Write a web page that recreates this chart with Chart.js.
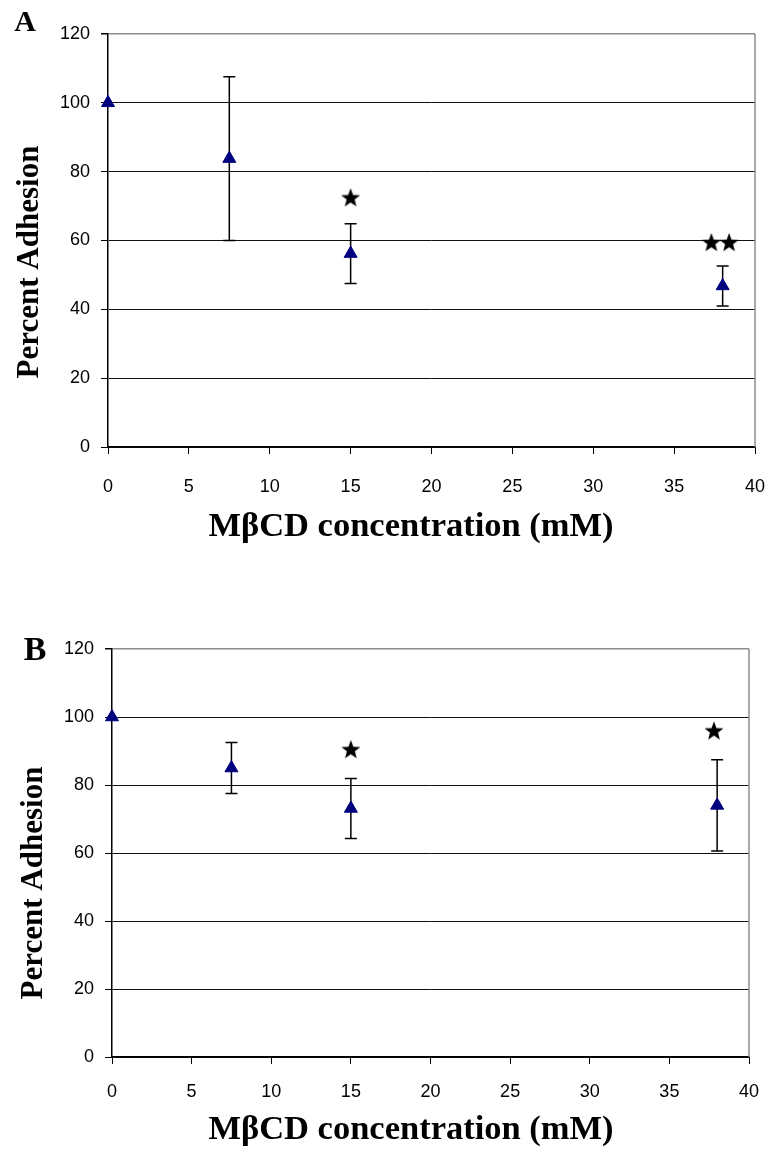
<!DOCTYPE html>
<html><head><meta charset="utf-8">
<script src="https://cdn.jsdelivr.net/npm/chart.js@4"></script>
<style>
html,body{margin:0;padding:0;background:#fff;}
#wrap{position:relative;width:769px;height:1164px;}
canvas{position:absolute;left:0;}
</style></head><body>
<div id="wrap">
<canvas id="cA" width="769" height="582" style="top:0"></canvas>
<canvas id="cB" width="769" height="582" style="top:582px"></canvas>
</div>
<script>
// ---- data ----
const xTicks = [0, 5, 10, 15, 20, 25, 30, 35, 40];
const yTicks = [0, 20, 40, 60, 80, 100, 120];
const xTitleText = 'MβCD concentration (mM)';
const yTitleText = 'Percent Adhesion';

const concA = [0, 7.5, 15, 38];
const adhesionA = [100, 83.8, 56.2, 46.8];
const errorA = [0, 23.8, 8.7, 5.8];
const starXA = [15, 37.3, 38.4];
const starYA = [72.5, 59.5, 59.5];

const concB = [0, 7.5, 15, 38];
const adhesionB = [100, 85, 73.1, 74];
const errorB = [0, 7.5, 8.8, 13.4];
const starXB = [15, 37.8];
const starYB = [90.5, 96];

// ---- star marker ----
function makeStar(size) {
  const c = document.createElement('canvas');
  c.width = size; c.height = size;
  const g = c.getContext('2d');
  const cx = size / 2, cy = size / 2 + size * 0.04, R = size / 2, r = R * 0.42;
  g.beginPath();
  for (let i = 0; i < 10; i++) {
    const rad = i % 2 === 0 ? R : r;
    const a = -Math.PI / 2 + i * Math.PI / 5;
    const px = cx + rad * Math.cos(a), py = cy + rad * Math.sin(a);
    if (i === 0) g.moveTo(px, py); else g.lineTo(px, py);
  }
  g.closePath();
  g.fillStyle = '#000';
  g.fill();
  return c;
}
const starImg = makeStar(20);

const serif = "'Liberation Serif','Times New Roman',serif";
const sans = "'Liberation Sans',Arial,sans-serif";

function makeChart(id, cfg) {
  const pts = cfg.x.map((v, i) => ({x: v, y: cfg.y[i]}));
  const stars = cfg.sx.map((v, i) => ({x: v, y: cfg.sy[i]}));
  const decor = {
    id: 'decor',
    beforeDatasetsDraw(chart) {
      const ctx = chart.ctx, xs = chart.scales.x, ys = chart.scales.y;
      ctx.save();
      ctx.strokeStyle = '#000';
      ctx.lineWidth = 1.5;
      cfg.x.forEach((xv, i) => {
        const e = cfg.err[i];
        if (!e) return;
        const px = xs.getPixelForValue(xv);
        const top = ys.getPixelForValue(cfg.y[i] + e);
        const bot = ys.getPixelForValue(cfg.y[i] - e);
        ctx.beginPath();
        ctx.moveTo(px, top); ctx.lineTo(px, bot);
        ctx.moveTo(px - 6, top); ctx.lineTo(px + 6, top);
        ctx.moveTo(px - 6, bot); ctx.lineTo(px + 6, bot);
        ctx.stroke();
      });
      // right border
      const a = chart.chartArea;
      ctx.strokeStyle = '#8c8c8c';
      ctx.lineWidth = 1.5;
      ctx.beginPath();
      ctx.moveTo(a.right, a.top); ctx.lineTo(a.right, a.bottom);
      ctx.stroke();
      ctx.restore();
    },
    afterDraw(chart) {
      const ctx = chart.ctx;
      ctx.save();
      ctx.fillStyle = '#000';
      ctx.textAlign = 'center';
      ctx.textBaseline = 'middle';
      ctx.font = 'bold ' + cfg.xTitleSize + 'px ' + serif;
      ctx.fillText(xTitleText, cfg.xTitle[0], cfg.xTitle[1]);
      ctx.save();
      ctx.translate(cfg.yTitle[0], cfg.yTitle[1]);
      ctx.rotate(-Math.PI / 2);
      ctx.font = 'bold ' + cfg.yTitleSize + 'px ' + serif;
      ctx.fillText(yTitleText, 0, 0);
      ctx.restore();
      ctx.font = 'bold ' + cfg.letterSize + 'px ' + serif;
      ctx.fillText(cfg.letter, cfg.letterPos[0], cfg.letterPos[1]);
      ctx.restore();
    }
  };
  const H = 582;
  return new Chart(document.getElementById(id), {
    type: 'scatter',
    data: {
      datasets: [
        {data: pts, pointStyle: 'triangle', pointRadius: 7.5, pointHoverRadius: 7.5,
         backgroundColor: '#00007f', borderColor: '#00007f', borderWidth: 1, clip: false},
        {data: stars, pointStyle: starImg, pointRadius: 10, clip: false}
      ]
    },
    options: {
      responsive: false,
      animation: false,
      events: [],
      layout: {padding: {top: cfg.plot.top, right: 769 - cfg.plot.right, left: 0, bottom: 0}},
      plugins: {legend: {display: false}, tooltip: {enabled: false}},
      scales: {
        x: {
          type: 'linear', min: 0, max: 40,
          afterBuildTicks(s) { s.ticks = xTicks.map(v => ({value: v})); },
          afterFit(s) { s.height = H - cfg.plot.bottom; s.paddingLeft = 0; s.paddingRight = 0; },
          grid: {drawOnChartArea: false, drawTicks: true, tickLength: 7, tickColor: '#000', tickWidth: 1},
          border: {display: true, color: '#000', width: 1.5},
          ticks: {padding: cfg.xPad, color: '#000', font: {family: sans, size: 18}, maxRotation: 0}
        },
        y: {
          type: 'linear', min: 0, max: 120,
          afterBuildTicks(s) { s.ticks = yTicks.map(v => ({value: v})); },
          afterFit(s) { s.width = cfg.plot.left; s.paddingTop = 0; s.paddingBottom = 0; },
          grid: {
            color: c => (c.tick && c.tick.value === 120) ? '#8c8c8c' : '#111',
            lineWidth: c => (c.tick && c.tick.value === 120) ? 1.5 : 1,
            drawTicks: true, tickLength: 7, tickColor: '#000'
          },
          border: {display: true, color: '#000', width: 1.5},
          ticks: {padding: cfg.yPad, color: '#000', font: {family: sans, size: 18}}
        }
      }
    },
    plugins: [decor]
  });
}

makeChart('cA', {
  x: concA, y: adhesionA, err: errorA, sx: starXA, sy: starYA,
  plot: {left: 108, top: 34, right: 755, bottom: 447},
  xPad: 22, yPad: 11,
  xTitle: [411, 527], xTitleSize: 34.5,
  yTitle: [30, 262], yTitleSize: 31,
  letter: 'A', letterPos: [25, 23], letterSize: 30
});
makeChart('cB', {
  x: concB, y: adhesionB, err: errorB, sx: starXB, sy: starYB,
  plot: {left: 112, top: 67, right: 749, bottom: 475},
  xPad: 17, yPad: 11,
  xTitle: [411, 548], xTitleSize: 34.5,
  yTitle: [34, 301], yTitleSize: 31,
  letter: 'B', letterPos: [35, 69], letterSize: 34
});
</script>
</body></html>
